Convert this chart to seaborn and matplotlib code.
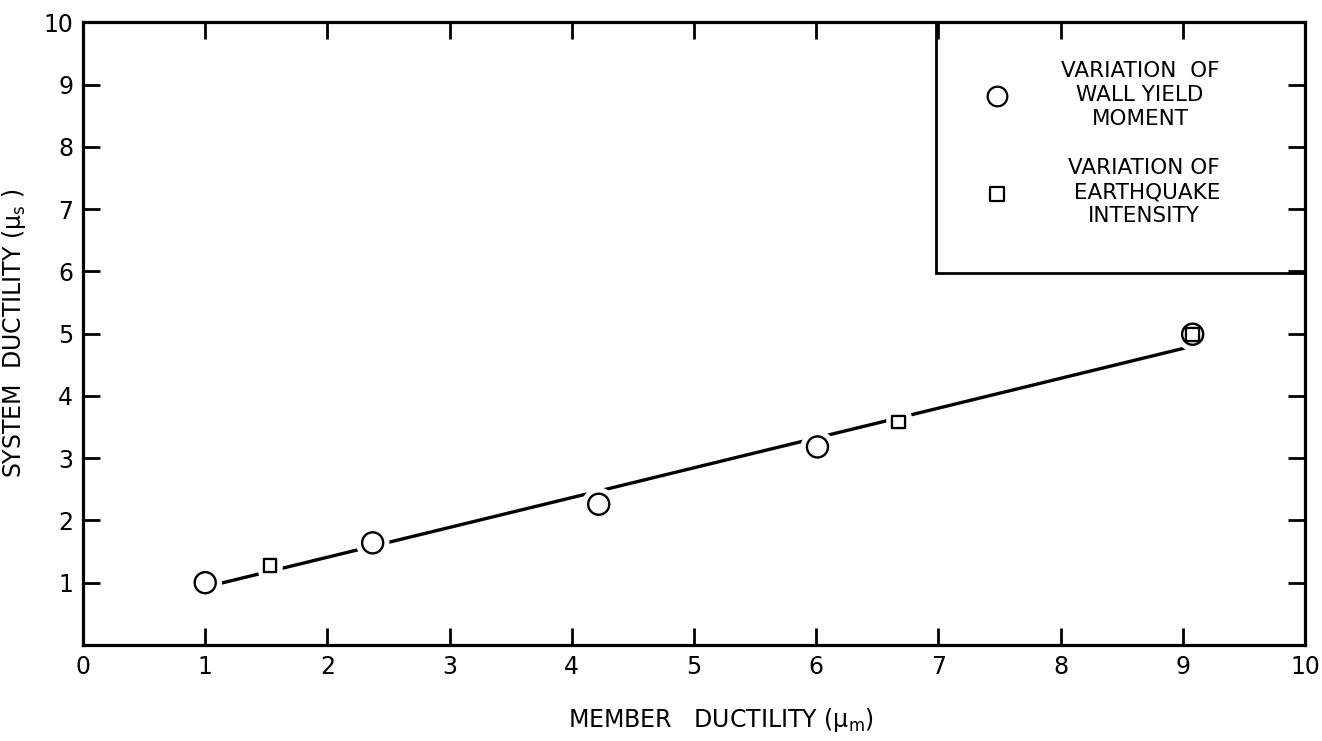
import pandas as pd
import seaborn as sns
import matplotlib.pyplot as plt
import matplotlib.patheffects as pe
from matplotlib.patches import Rectangle

# Points
wall_x = [1.0, 2.37, 4.22, 6.01, 9.08]
wall_y = [1.0, 1.64, 2.26, 3.18, 4.99]
eq_x = [1.53, 6.67, 9.08]
eq_y = [1.27, 3.58, 4.99]
# Straight fitted line through the points
fit_x = [1.0, 9.04]
fit_y = [0.93, 4.78]

wall_label = "VARIATION  OF\nWALL YIELD\nMOMENT"
eq_label = "VARIATION OF\n EARTHQUAKE\nINTENSITY"

sns.set_style("ticks")
plt.rcParams['font.family'] = ['DejaVu Sans']
plt.rcParams['mathtext.default'] = 'regular'
plt.rcParams['text.color'] = 'black'
plt.rcParams['axes.labelcolor'] = 'black'

fig = plt.figure(figsize=(13.22, 7.41), dpi=100)
ax = fig.add_axes([0.0628, 0.1296, 0.9244, 0.8404])

wall = pd.DataFrame({"x": wall_x, "y": wall_y})
eq = pd.DataFrame({"x": eq_x, "y": eq_y})
fit = pd.DataFrame({"x": fit_x, "y": fit_y})

sns.lineplot(data=fit, x="x", y="y", ax=ax, color="black", lw=2.4, zorder=2)

# white halo leaves a small gap between the line and each marker
halo = [pe.withStroke(linewidth=9, foreground="white")]
sns.scatterplot(data=wall, x="x", y="y", ax=ax, marker="o", s=230,
                facecolor="white", edgecolor="white", linewidth=1.8, zorder=3)
ax.collections[-1].set_path_effects(halo)
sns.scatterplot(data=eq, x="x", y="y", ax=ax, marker="s", s=85,
                facecolor="white", edgecolor="black", linewidth=1.6, zorder=4)
ax.collections[-1].set_path_effects(halo + [pe.Normal()])
# circle outlines on top so the shared point shows both marks
sns.scatterplot(data=wall, x="x", y="y", ax=ax, marker="o", s=230,
                facecolor="none", edgecolor="black", linewidth=1.7, zorder=5)

# legend box in the upper right corner
ax.add_patch(Rectangle((6.98, 5.97), 3.02, 4.03, fill=False, edgecolor="black",
                       lw=2, zorder=5, clip_on=False))
ax.scatter([7.48], [8.81], marker="o", s=200, facecolor="white", edgecolor="black",
           linewidth=1.6, zorder=6)
ax.scatter([7.48], [7.24], marker="s", s=95, facecolor="white", edgecolor="black",
           linewidth=1.6, zorder=6)
ax.text(8.65, 8.83, wall_label, ha="center", va="center", fontsize=15.5,
        linespacing=1.25, multialignment="center")
ax.text(8.68, 7.27, eq_label, ha="center", va="center", fontsize=15.5,
        linespacing=1.25, multialignment="center")

ax.set_xlim(0, 10)
ax.set_ylim(0, 10)
ax.set_xticks(range(0, 11))
ax.set_yticks(range(1, 11))
ax.tick_params(direction="in", length=12, width=2, top=True, right=True,
               labelsize=17, pad=7, colors="black")
for s in ax.spines.values():
    s.set_linewidth(2.3)
    s.set_edgecolor("black")
    s.set_visible(True)

ax.set_xlabel("MEMBER   DUCTILITY (μ$_m$)", fontsize=17)
ax.xaxis.set_label_coords(0.522, -0.098)
ax.set_ylabel("SYSTEM  DUCTILITY (μ$_s$ )", fontsize=17)
ax.yaxis.set_label_coords(-0.045, 0.5)

fig.savefig("out.png", dpi=100, facecolor="white")
